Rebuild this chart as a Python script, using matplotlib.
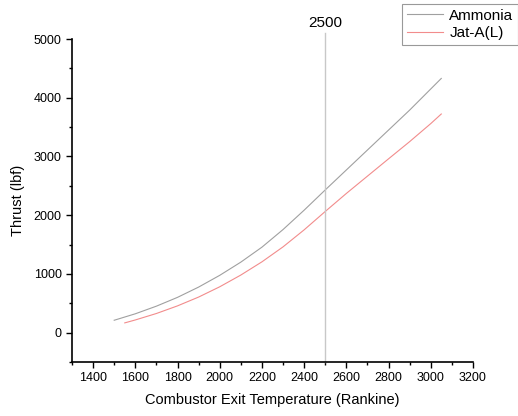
import numpy as np
import matplotlib.pyplot as plt
from matplotlib.ticker import MultipleLocator

plt.rcParams["font.family"] = ["Liberation Sans", "DejaVu Sans"]

# Data
amm_T = [1500, 1600, 1700, 1800, 1900, 2000, 2100, 2200, 2300, 2400, 2500,
         2600, 2700, 2800, 2900, 3000, 3050]
amm_F = [210, 320, 450, 600, 775, 975, 1200, 1455, 1755, 2085, 2430,
         2770, 3110, 3450, 3790, 4150, 4330]
jet_T = [1550, 1600, 1700, 1800, 1900, 2000, 2100, 2200, 2300, 2400, 2500,
         2600, 2700, 2800, 2900, 3000, 3050]
jet_F = [165, 215, 325, 455, 605, 780, 980, 1205, 1460, 1750, 2063,
         2370, 2665, 2960, 3253, 3560, 3724]
marker_T = 2500

fig = plt.figure(figsize=(5.18, 4.16), dpi=100)
ax = fig.add_axes([0.139, 0.13, 0.774, 0.776])

l1, = ax.plot(amm_T, amm_F, color="#a0a0a0", lw=0.8, label="Ammonia")
l2, = ax.plot(jet_T, jet_F, color="#f28c8c", lw=0.8, label="Jat-A(L)")
ax.axvline(marker_T, ymin=0, ymax=1.02, color="#c8c8c8", lw=1.0, clip_on=False)
ax.text(marker_T, 5150, str(marker_T), ha="center", va="bottom", fontsize=11)

ax.set_xlim(1300, 3200)
ax.set_ylim(-500, 5000)
ax.xaxis.set_major_locator(MultipleLocator(200))
ax.xaxis.set_minor_locator(MultipleLocator(100))
ax.yaxis.set_major_locator(MultipleLocator(1000))
ax.yaxis.set_minor_locator(MultipleLocator(500))
ax.tick_params(which="major", direction="out", length=4, width=1, labelsize=9)
ax.tick_params(which="minor", direction="out", length=2.5, width=1)
for s in ["top", "right"]:
    ax.spines[s].set_visible(False)
for s in ["left", "bottom"]:
    ax.spines[s].set_linewidth(1.2)

ax.set_xlabel("Combustor Exit Temperature (Rankine)", fontsize=10.5, labelpad=6)
ax.set_ylabel("Thrust (lbf)", fontsize=10.5, labelpad=6)

leg = fig.legend(handles=[l1, l2], loc="upper right",
                 bbox_to_anchor=(1.0, 1 - 4 / 416), fontsize=11,
                 frameon=True, fancybox=False, edgecolor="#808080",
                 handlelength=2.4, handletextpad=0.4, borderpad=0.3,
                 labelspacing=0.25, borderaxespad=0)
leg.get_frame().set_linewidth(0.8)

fig.savefig("out.png", dpi=100)
